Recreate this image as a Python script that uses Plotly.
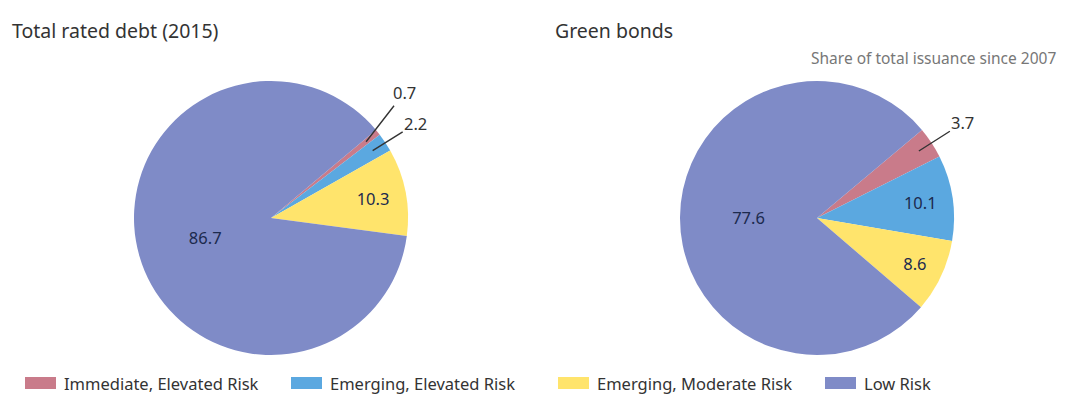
import math
import plotly.graph_objects as go

W, H = 1071, 396

categories = ["Immediate, Elevated Risk", "Emerging, Elevated Risk",
              "Emerging, Moderate Risk", "Low Risk"]
rated_debt_2015 = [0.7, 2.2, 10.3, 86.7]
green_bonds = [3.7, 10.1, 8.6, 77.6]
colors = ["#C97B8A", "#5BA8E0", "#FFE46C", "#7F8BC7"]

ROTATION = 50  # degrees clockwise from 12 o'clock
RADIUS = 137   # px
centers = [(271, 218), (817, 218)]
titles = ["Total rated debt (2015)", "Green bonds"]
datasets = [rated_debt_2015, green_bonds]
# pixel offsets of callout text from the slice point, for small slices
callout_offsets = [{0: (38, -49), 1: (43, -27)}, {0: (44, -28)}]

FONT = "Noto Sans"

fig = go.Figure()
annotations = []

for values, (cx, cy), offsets in zip(datasets, centers, callout_offsets):
    positions = ["none" if i in offsets else "inside" for i in range(len(values))]
    fig.add_trace(go.Pie(
        labels=categories,
        values=values,
        sort=False,
        direction="clockwise",
        rotation=ROTATION,
        marker=dict(colors=colors, line=dict(width=0)),
        texttemplate="%{value:.1f}",
        textposition=positions,
        insidetextorientation="horizontal",
        textfont=dict(family=FONT, size=16.5, color="#1C2A4E"),
        domain=dict(x=[(cx - RADIUS) / W, (cx + RADIUS) / W],
                    y=[1 - (cy + RADIUS) / H, 1 - (cy - RADIUS) / H]),
        showlegend=False,
        hoverinfo="label+value",
    ))
    # leader-line callouts for the thin slices
    total = sum(values)
    cum = 0.0
    start = 90 - ROTATION
    for i, v in enumerate(values):
        mid = start - 360 * (cum + v / 2) / total
        cum += v
        if i not in offsets:
            continue
        px = cx + 0.89 * RADIUS * math.cos(math.radians(mid))
        py = cy - 0.89 * RADIUS * math.sin(math.radians(mid))
        ax, ay = offsets[i]
        annotations.append(dict(
            x=px / W, y=1 - py / H, xref="paper", yref="paper",
            text=f"{v:.1f}", showarrow=True, arrowhead=0, arrowwidth=1.4,
            arrowcolor="#333333", ax=ax, ay=ay,
            font=dict(family=FONT, size=16.5, color="#333333"),
        ))

# panel titles
for title, x in zip(titles, [10, 553]):
    annotations.append(dict(
        x=x / W, y=1 - 30 / H, xref="paper", yref="paper", text=title,
        showarrow=False, xanchor="left", yanchor="middle",
        font=dict(family=FONT, size=19.5, color="#333333"),
    ))

annotations.append(dict(
    x=1058 / W, y=1 - 58 / H, xref="paper", yref="paper",
    text="Share of total issuance since 2007", showarrow=False,
    xanchor="right", yanchor="middle",
    font=dict(family=FONT, size=15.5, color="#777777"),
))

# legend row with wide swatches
shapes = []
legend_x = [25, 291, 558, 825]
legend_y = 383
for name, col, x in zip(categories, colors, legend_x):
    shapes.append(dict(
        type="rect", xref="paper", yref="paper",
        x0=x / W, x1=(x + 31) / W,
        y0=1 - (legend_y + 6) / H, y1=1 - (legend_y - 6) / H,
        fillcolor=col, line=dict(width=0),
    ))
    annotations.append(dict(
        x=(x + 37) / W, y=1 - legend_y / H, xref="paper", yref="paper",
        text=name, showarrow=False, xanchor="left", yanchor="middle",
        font=dict(family=FONT, size=16.5, color="#333333"),
    ))

fig.update_layout(
    width=W, height=H,
    margin=dict(l=0, r=0, t=0, b=0),
    paper_bgcolor="white", plot_bgcolor="white",
    annotations=annotations, shapes=shapes,
)

fig.write_html("out.html")
